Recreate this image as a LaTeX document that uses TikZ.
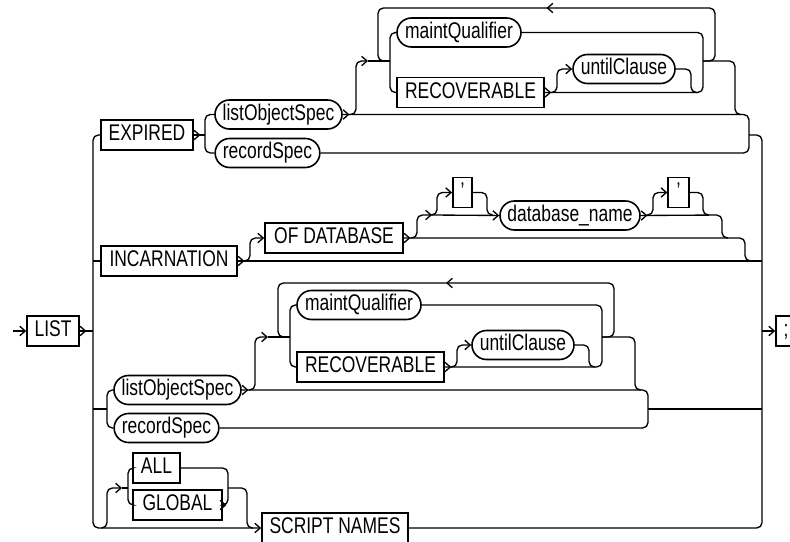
\documentclass[tikz,border=0pt]{standalone}
\usepackage{fontspec}
\setmainfont{Liberation Sans}[FakeStretch=0.77]
\usetikzlibrary{arrows.meta,decorations.markings,shapes.misc}
\begin{document}
\begin{tikzpicture}[x=0.75pt,y=-0.75pt,
  >={Straight Barb[length=4pt,width=7pt]},
  conn/.style={line width=1pt, rounded corners=4pt},
  midarr/.style={postaction={decorate,decoration={markings,mark=at position #1 with {\arrow{>}}}}},
  outchev/.style={midarr=#1}, outchev/.default=5pt,
  looparr/.style={midarr=0.5},
  term/.style={draw, line width=1.2pt, inner sep=0pt, minimum height=22.5pt,
    text height=12.2pt, text depth=3.6pt, font=\fontsize{17}{20}\selectfont},
  nterm/.style={term, rounded rectangle, minimum height=21.75pt}]
\useasboundingbox (0,0) rectangle (790,542);

% nodes
\node[term, minimum width=39pt] (LIST) at (53,331) {LIST};
\node[term, minimum width=15pt] (semi) at (786,331) {;};
\node[term, minimum width=69pt] (EXP) at (147,135) {EXPIRED};
\node[nterm, minimum width=95.25pt] (lo1) at (278.5,114.5) {listObjectSpec};
\node[nterm, minimum width=78.5pt] (rs1) at (267.5,153) {recordSpec};
\node[nterm, minimum width=93pt] (mq1) at (459,32.5) {maintQualifier};
\node[term, minimum width=110pt] (rec1) at (470.5,92.5) {RECOVERABLE};
\node[nterm, minimum width=76.5pt] (uc1) at (624,69) {untilClause};
\node[term, minimum width=102pt] (INC) at (169,261) {INCARNATION};
\node[term, minimum width=103.5pt] (OFD) at (334,238) {OF DATABASE};
\node[term, minimum width=14.5pt] (q1) at (462.5,192.5) {’};
\node[nterm, minimum width=105pt] (dbn) at (570,215.5) {database\_name};
\node[term, minimum width=15.5pt] (q2) at (678.5,192.5) {’};
\node[nterm, minimum width=95.25pt] (lo2) at (177.5,390) {listObjectSpec};
\node[nterm, minimum width=78.5pt] (rs2) at (166.5,428) {recordSpec};
\node[nterm, minimum width=93pt] (mq2) at (359,305) {maintQualifier};
\node[term, minimum width=110pt] (rec2) at (370.5,367) {RECOVERABLE};
\node[nterm, minimum width=76.5pt] (uc2) at (523,345) {untilClause};
\node[term, minimum width=35.25pt] (ALL) at (156.5,468) {ALL};
\node[term, minimum width=66.75pt] (GLB) at (177.5,505) {GLOBAL};
\node[term, minimum width=109.5pt] (SN) at (335,528) {SCRIPT NAMES};

% main line
\coordinate (start) at (13,331);
\draw[conn,->] (start) -- (LIST.west);
\draw[conn,outchev] (LIST.east) -- (93,331);
\draw[conn,->] (EXP.west) -- (93,135) -- (93,528) -- (SN.west);
\draw[conn] (93,261) -- (INC.west);
\draw[conn] (SN.east) -- (762,528) -- (762,135) -- (749,135);
\draw[conn,->] (762,331) -- (semi.west);

% EXPIRED group
\draw[conn,outchev] (EXP.east) -- (205,135);
\draw[conn] (lo1.west) -- (205,114.5) -- (205,153) -- (rs1.west);
\draw[conn,outchev] (lo1.east) -- (749,114.5) -- (749,153) -- (rs1.east);
\draw[conn,->] (350,114.5) -- (356,114.5) -- (356,61) -- (368,61);
\draw[conn] (368,61) -- (390,61);
\draw[conn] (mq1.west) -- (390,32.5) -- (390,92.5) -- (rec1.west);
\draw[conn,looparr] (703,61) -- (715,61) -- (715,8) -- (378,8) -- (378,61) -- (390,61);
\draw[conn,outchev] (rec1.east) -- (703,92.5) -- (703,32.5) -- (mq1.east);
\draw[conn,->] (551,92.5) -- (557,92.5) -- (557,69) -- (uc1.west);
\draw[conn] (uc1.east) -- (691,69) -- (691,92.5) -- (697,92.5);
\draw[conn] (703,61) -- (735,61) -- (735,114.5) -- (741,114.5);

% INCARNATION group
\draw[conn,outchev] (INC.east) -- (762,261);
\draw[conn,->] (244,261) -- (250,261) -- (250,238) -- (OFD.west);
\draw[conn,outchev] (OFD.east) -- (745,238) -- (745,261) -- (751,261);
\draw[conn,->] (411,238) -- (417,238) -- (417,215) -- (432,215);
\draw[conn,->] (432,215) -- (dbn.west);
\draw[conn,->] (431,215) -- (437,215) -- (437,192.5) -- (q1.west);
\draw[conn] (q1.east) -- (487,192.5) -- (487,215) -- (493,215);
\draw[conn,outchev] (dbn.east) -- (722,215) -- (722,238) -- (728,238);
\draw[conn,->] (647,215) -- (653,215) -- (653,192.5) -- (q2.west);
\draw[conn] (q2.east) -- (703,192.5) -- (703,215) -- (709,215);

% second listObjectSpec group
\draw[conn] (93,409) -- (107,409);
\draw[conn] (lo2.west) -- (107,390) -- (107,428) -- (rs2.west);
\draw[conn,outchev] (lo2.east) -- (648,390) -- (648,428) -- (rs2.east);
\draw[conn] (648,409) -- (762,409);
\draw[conn,->] (249,390) -- (255,390) -- (255,337) -- (268,337);
\draw[conn] (268,337) -- (290,337);
\draw[conn] (mq2.west) -- (290,305) -- (290,367) -- (rec2.west);
\draw[conn,looparr] (602,337) -- (614,337) -- (614,283) -- (278,283) -- (278,337) -- (290,337);
\draw[conn,outchev] (rec2.east) -- (602,367) -- (602,305) -- (mq2.east);
\draw[conn,->] (451,367) -- (457,367) -- (457,345) -- (uc2.west);
\draw[conn] (uc2.east) -- (589,345) -- (589,367) -- (595,367);
\draw[conn] (602,337) -- (635,337) -- (635,390) -- (641,390);

% ALL / GLOBAL group
\draw[conn,->] (101,528) -- (107,528) -- (107,488) -- (122,488);
\draw[conn] (122,488) -- (128,488);
\draw[conn] (ALL.west) -- (128,468) -- (128,505) -- (GLB.west);
\draw[conn] (ALL.east) -- (228,468) -- (228,505) -- (GLB.east);
\coordinate (gchev) at (226.5,505);
\draw[conn,->] (GLB.east) -- (gchev);
\draw[conn] (228,488) -- (247,488) -- (247,528) -- (253,528);
\end{tikzpicture}
\end{document}
